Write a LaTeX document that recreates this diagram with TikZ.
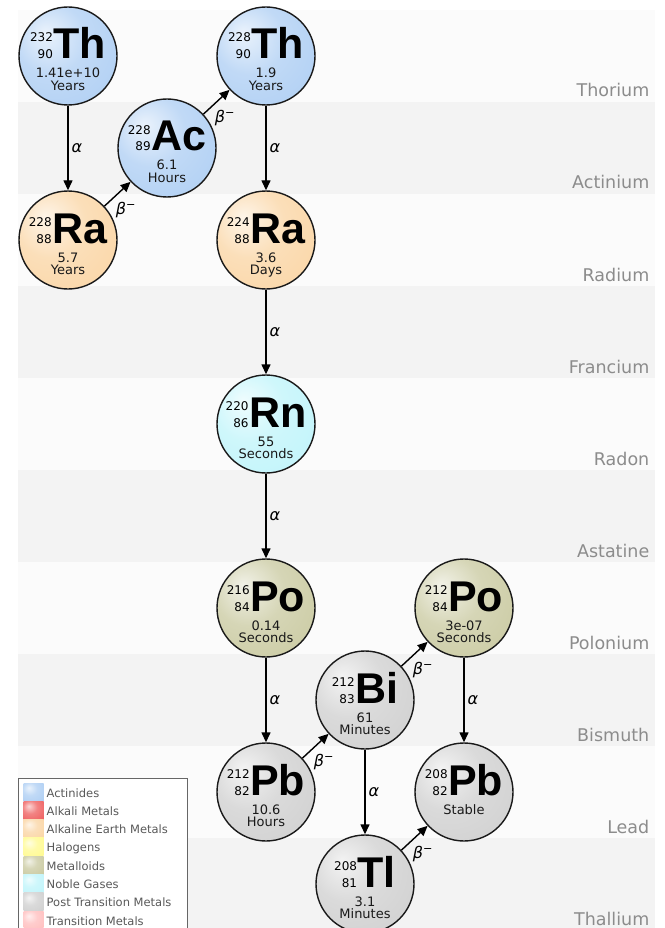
\documentclass[tikz,border=0pt]{standalone}
\usepackage{fontspec}
\setmainfont{DejaVu Sans}
\newfontfamily\symfont{Liberation Sans}
\usetikzlibrary{arrows.meta,positioning,calc}

\definecolor{actinide}{RGB}{172,205,243}
\definecolor{alkali}{RGB}{238,90,90}
\definecolor{alkearth}{RGB}{250,212,162}
\definecolor{halogen}{RGB}{255,250,140}
\definecolor{metalloid}{RGB}{200,200,158}
\definecolor{noble}{RGB}{190,244,250}
\definecolor{posttrans}{RGB}{206,206,206}
\definecolor{transmetal}{RGB}{255,188,188}
\definecolor{bandgray}{RGB}{243,243,243}
\definecolor{bandwhite}{RGB}{251,251,251}

\colorlet{isocol}{actinide}
\pgfdeclareradialshading[isocol]{orb}{\pgfqpoint{-12bp}{12bp}}{color(0bp)=(isocol!25!white); color(18bp)=(isocol!75!white); color(45bp)=(isocol); color(68bp)=(isocol!85!black)}

\tikzset{
    -{Triangle[length=10pt,width=9pt]},auto,
    x=1pt,y=-1pt,
    iso/.style={circle, draw=black!90, line width=1.4pt, minimum size=98pt, inner sep=0pt,
        /utils/exec={\colorlet{isocol}{#1}}, shading=orb},
    sym/.style={inner sep=0pt, font=\fontsize{43}{43}\selectfont},
    life/.style={inner sep=0pt, font=\fontsize{13}{13}\selectfont, text=black!90},
    el/.style={inner sep=3pt, font=\fontsize{16}{16}\selectfont\itshape},
    bandlbl/.style={inner sep=0pt, font=\fontsize{17.5}{17.5}\selectfont, text=black!45},
    swatch/.style={rectangle, minimum width=20pt, minimum height=18pt, inner sep=0pt,
        /utils/exec={\colorlet{isocol}{#1}}, shading=orb},
    legtxt/.style={inner sep=0pt, font=\fontsize{11.5}{11.5}\selectfont, text=black!65}
}

\newcommand{\massno}[2]{{\fontsize{12}{17}\selectfont\begin{tabular}[b]{@{}r@{}}#1\\#2\end{tabular}}}
\newcommand{\isotope}[8]{%
    \node[iso=#8] (#1) at (#2) {};
    \node[sym, anchor=base] (#1s) at ([yshift=-3pt]#1.center) {\massno{#3}{#4}\kern0.5pt{\symfont\bfseries #5}};
    \node[life, anchor=base] (#1h) at ([yshift=-22pt]#1.center) {#6};
    \node[life, anchor=base] (#1u) at ([yshift=-34.5pt]#1.center) {#7};
}

\begin{document}
\begin{tikzpicture}[line width=1.4pt]

    \path[use as bounding box] (0,0) rectangle (664,928);
    \clip (0,0) rectangle (664,928);
    \fill[white] (0,0) rectangle (664,928);

    % element bands
    \fill[bandwhite] (18,10) rectangle (655,940);
    \foreach \i in {1,3,5,7,9}
        \fill[bandgray] (18,10+92*\i) rectangle (655,102+92*\i);
    \foreach \name [count=\i from 0] in {Thorium,Actinium,Radium,Francium,Radon,Astatine,Polonium,Bismuth,Lead,Thallium}
        \node[bandlbl, anchor=base east] (band\i) at (650,97+92*\i) {\name};

    % LEGEND:
    \draw[-, draw=black!60, line width=0.8pt, fill=white] (18,778) rectangle (187,945);
    \foreach \col/\txt [count=\k from 0] in {actinide/Actinides, alkali/Alkali Metals,
        alkearth/Alkaline Earth Metals, halogen/Halogens, metalloid/Metalloids,
        noble/Noble Gases, posttrans/Post Transition Metals, transmetal/Transition Metals} {
        \node[swatch=\col] (sw\k) at (33.5,792+18.3*\k) {};
        \node[legtxt, anchor=base west] (leg\k) at (46,797+18.3*\k) {\txt};
    }

    % isotopes
    \isotope{th232}{68,56}{232}{90}{Th}{1.41e+10}{Years}{actinide}
    \isotope{ac228}{167,148}{228}{89}{Ac}{6.1}{Hours}{actinide}
    \isotope{th228}{266,56}{228}{90}{Th}{1.9}{Years}{actinide}
    \isotope{ra228}{68,240}{228}{88}{Ra}{5.7}{Years}{alkearth}
    \isotope{ra224}{266,240}{224}{88}{Ra}{3.6}{Days}{alkearth}
    \isotope{rn220}{266,424}{220}{86}{Rn}{55}{Seconds}{noble}
    \isotope{po216}{266,608}{216}{84}{Po}{0.14}{Seconds}{metalloid}
    \isotope{po212}{464,608}{212}{84}{Po}{3e-07}{Seconds}{metalloid}
    \isotope{bi212}{365,700}{212}{83}{Bi}{61}{Minutes}{posttrans}
    \isotope{pb212}{266,792}{212}{82}{Pb}{10.6}{Hours}{posttrans}
    \isotope{pb208}{464,792}{208}{82}{Pb}{Stable}{}{posttrans}
    \isotope{tl208}{365,884}{208}{81}{Tl}{3.1}{Minutes}{posttrans}

    % alpha decays
    \path (th232) edge node[el] {α} (ra228);
    \path (th228) edge node[el] {α} (ra224);
    \path (ra224) edge node[el] {α} (rn220);
    \path (rn220) edge node[el] {α} (po216);
    \path (po216) edge node[el] {α} (pb212);
    \path (bi212) edge node[el] {α} (tl208);
    \path (po212) edge node[el] {α} (pb208);

    % beta decays
    \path (ra228) edge node[el, swap, pos=0.3] {{\itshape β}\textsuperscript{−}} (ac228);
    \path (ac228) edge node[el, swap, pos=0.3] {{\itshape β}\textsuperscript{−}} (th228);
    \path (pb212) edge node[el, swap, pos=0.3] {{\itshape β}\textsuperscript{−}} (bi212);
    \path (bi212) edge node[el, swap, pos=0.3] {{\itshape β}\textsuperscript{−}} (po212);
    \path (tl208) edge node[el, swap, pos=0.3] {{\itshape β}\textsuperscript{−}} (pb208);

\end{tikzpicture}
\end{document}
